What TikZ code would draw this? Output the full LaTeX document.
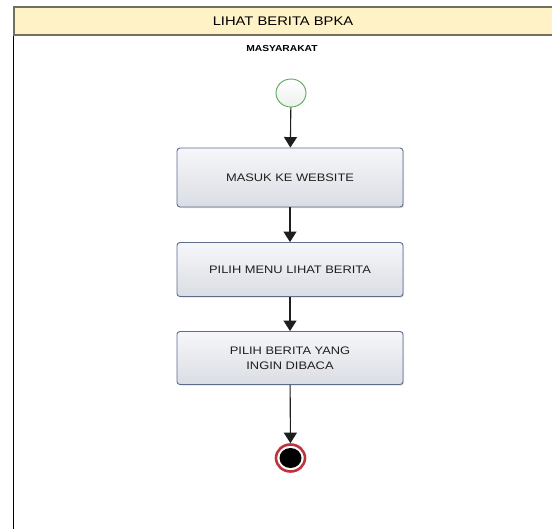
\documentclass[tikz,border=0pt]{standalone}
\usepackage{fontspec}
\setmainfont{Liberation Sans}
\newfontfamily\widesans[FakeStretch=1.18]{Liberation Sans}
\usetikzlibrary{arrows.meta,shapes.geometric,shadows}
\definecolor{headfill}{RGB}{255,242,198}
\definecolor{headline}{RGB}{112,112,92}
\definecolor{boxline}{RGB}{92,110,140}
\definecolor{boxtop}{RGB}{246,247,250}
\definecolor{boxbot}{RGB}{218,221,227}
\definecolor{startline}{RGB}{92,165,92}
\definecolor{startfill}{RGB}{236,240,236}
\definecolor{endring}{RGB}{190,52,62}
\definecolor{flowline}{RGB}{30,30,30}
\tikzset{
  actbox/.style={draw=boxline, line width=0.9pt, rounded corners=3pt,
    top color=boxtop, bottom color=boxbot,
    minimum width=226pt, minimum height=59pt, align=center,
    font=\widesans\fontsize{10.9}{15}\selectfont, text=black!88,
    drop shadow={shadow xshift=1.2pt, shadow yshift=-1.2pt, opacity=0.25}},
  startnode/.style={ellipse, draw=startline, line width=0.9pt,
    top color=white, bottom color=startfill, minimum width=30pt, minimum height=28pt,
    inner sep=0pt},
  endouter/.style={ellipse, draw=endring, line width=2.6pt, fill=white,
    minimum width=29pt, minimum height=27pt, inner sep=0pt},
  endinner/.style={ellipse, fill=black, minimum width=22pt, minimum height=20pt, inner sep=0pt},
  flow/.style={draw=flowline, line width=1.1pt, -{Triangle[length=10.5pt,width=13pt]}}
}
\begin{document}
\begin{tikzpicture}[x=1pt,y=-1pt]
  \useasboundingbox (0,0) rectangle (552,528);
  \fill[white] (0,0) rectangle (552,528);
  % swimlane frame
  \draw[black, line width=1.6pt] (13.5,35) -- (13.5,530);
  \draw[headline, fill=headfill, line width=2pt] (13.5,6.5) rectangle (556,35);
  \node (title) at (283,21) {\widesans\fontsize{12.5}{14}\selectfont LIHAT BERITA BPKA};
  \node (lane) at (282,49) {\widesans\bfseries\fontsize{8.7}{11}\selectfont MASYARAKAT};
  % activity flow
  \node[startnode] (start) at (291,93) {};
  \node[actbox] (a1) at (290,177.5) {MASUK KE WEBSITE};
  \node[actbox, minimum height=54pt] (a2) at (290,269.5) {PILIH MENU LIHAT BERITA};
  \node[actbox, minimum height=53pt] (a3) at (290,358) {PILIH BERITA YANG\\INGIN DIBACA};
  \node[endouter] (stop) at (290.5,458) {};
  \node[endinner] (stopdot) at (290.5,458) {};
  \draw[flow] (start) -- (a1);
  \draw[flow] (a1) -- (a2);
  \draw[flow] (a2) -- (a3);
  \draw[flow] (a3) -- (stop);
\end{tikzpicture}
\end{document}
